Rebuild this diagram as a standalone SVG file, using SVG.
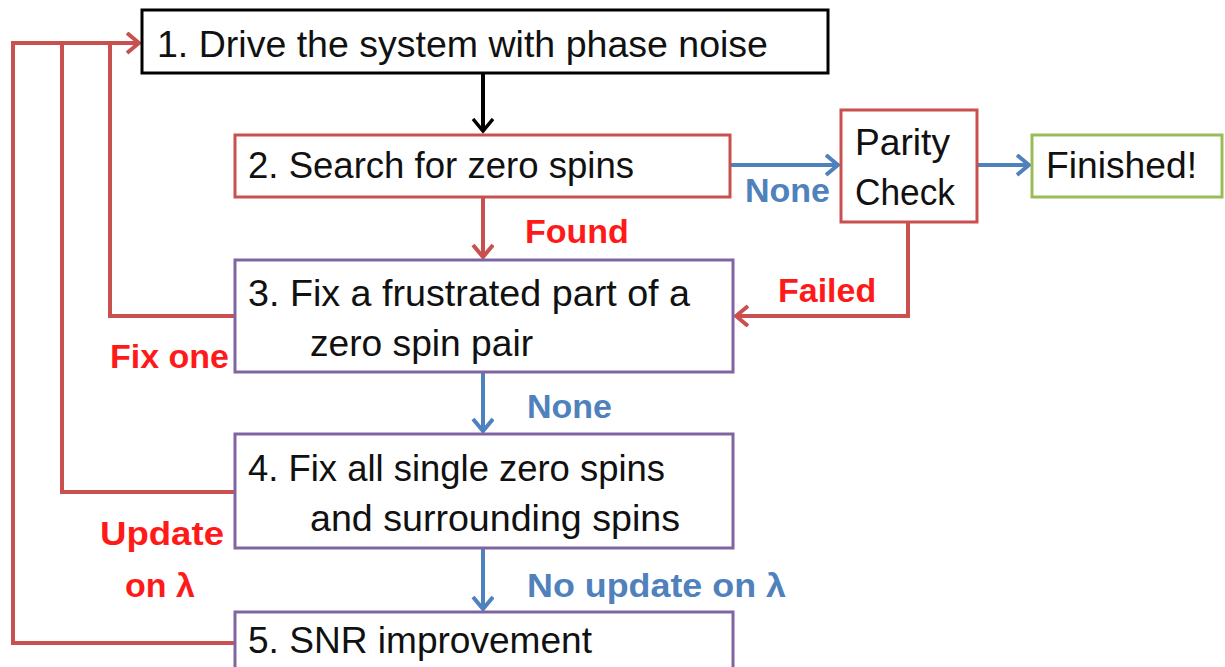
<svg xmlns="http://www.w3.org/2000/svg" width="1225" height="667" viewBox="0 0 1225 667">
<defs>
<style>
.box{fill:#fff;stroke-width:3}
.t{font-family:"Liberation Sans",Arial,sans-serif;font-size:37px;fill:#111}
.lb{font-family:"Liberation Sans",Arial,sans-serif;font-size:34px;font-weight:bold}
.red{fill:#ff1a1a}
.blue{fill:#4f81bd}
.c{fill:none;stroke-width:4}
</style>
<marker id="ak" markerUnits="userSpaceOnUse" markerWidth="16" markerHeight="24" refX="13" refY="11" orient="auto"><path d="M1,1 L13,11 L1,21" fill="none" stroke="#000" stroke-width="3.5"/></marker>
<marker id="ar" markerUnits="userSpaceOnUse" markerWidth="16" markerHeight="24" refX="13" refY="11" orient="auto"><path d="M1,1 L13,11 L1,21" fill="none" stroke="#c9504f" stroke-width="4"/></marker>
<marker id="ab" markerUnits="userSpaceOnUse" markerWidth="16" markerHeight="24" refX="13" refY="11" orient="auto"><path d="M1,1 L13,11 L1,21" fill="none" stroke="#4f81bd" stroke-width="4"/></marker>
</defs>
<rect width="1225" height="667" fill="#fff"/>
<g id="connectors">
<path class="c" d="M483,73 V131" stroke="#000" stroke-width="3" marker-end="url(#ak)"/>
<path class="c" d="M483,197 V257" stroke="#c9504f" marker-end="url(#ar)"/>
<path class="c" d="M730,165 H838" stroke="#4f81bd" marker-end="url(#ab)"/>
<path class="c" d="M977,165 H1029" stroke="#4f81bd" marker-end="url(#ab)"/>
<path class="c" d="M908,222 V316 H736" stroke="#c9504f" marker-end="url(#ar)"/>
<path class="c" d="M483,372 V431" stroke="#4f81bd" marker-end="url(#ab)"/>
<path class="c" d="M483,548 V609" stroke="#4f81bd" marker-end="url(#ab)"/>
<path class="c" d="M235,316 H110 V43" stroke="#c9504f"/>
<path class="c" d="M235,492 H62 V43" stroke="#c9504f"/>
<path class="c" d="M235,643 H13 V43 H139" stroke="#c9504f" marker-end="url(#ar)"/>
<text class="lb blue" x="745" y="202">None</text>
<text class="lb red" x="525" y="243">Found</text>
<text class="lb red" x="778" y="302">Failed</text>
<text class="lb red" x="110" y="368">Fix one</text>
<text class="lb blue" x="527" y="418">None</text>
<text class="lb red" x="100" y="545" textLength="124" lengthAdjust="spacingAndGlyphs">Update</text>
<text class="lb red" x="125" y="597">on λ</text>
<text class="lb blue" x="527" y="597" textLength="259" lengthAdjust="spacingAndGlyphs">No update on λ</text>
</g>
<g id="node1">
<rect class="box" x="142" y="10" width="686" height="63" stroke="#000"/>
<text class="t" x="157" y="57" textLength="611" lengthAdjust="spacingAndGlyphs">1. Drive the system with phase noise</text>
</g>
<g id="node2">
<rect class="box" x="235" y="135" width="495" height="62" stroke="#c9504f"/>
<text class="t" x="248" y="178" textLength="386" lengthAdjust="spacingAndGlyphs">2. Search for zero spins</text>
</g>
<g id="node3">
<rect class="box" x="235" y="260" width="498" height="112" stroke="#8064a2"/>
<text class="t" x="248" y="306" textLength="442" lengthAdjust="spacingAndGlyphs">3. Fix a frustrated part of a</text>
<text class="t" x="310" y="356" textLength="223" lengthAdjust="spacingAndGlyphs">zero spin pair</text>
</g>
<g id="node4">
<rect class="box" x="235" y="434" width="498" height="114" stroke="#8064a2"/>
<text class="t" x="248" y="481" textLength="417" lengthAdjust="spacingAndGlyphs">4. Fix all single zero spins</text>
<text class="t" x="310" y="531" textLength="370" lengthAdjust="spacingAndGlyphs">and surrounding spins</text>
</g>
<g id="node5">
<rect class="box" x="235" y="612" width="498" height="70" stroke="#8064a2"/>
<text class="t" x="248" y="653" textLength="344" lengthAdjust="spacingAndGlyphs">5. SNR improvement</text>
</g>
<g id="parity">
<rect class="box" x="841" y="110" width="136" height="112" stroke="#c9504f"/>
<text class="t" x="855" y="155" textLength="95" lengthAdjust="spacingAndGlyphs">Parity</text>
<text class="t" x="855" y="205" textLength="100" lengthAdjust="spacingAndGlyphs">Check</text>
</g>
<g id="finished">
<rect class="box" x="1032" y="135" width="190" height="62" stroke="#9bbb59"/>
<text class="t" x="1046" y="178" textLength="151" lengthAdjust="spacingAndGlyphs">Finished!</text>
</g>
</svg>
